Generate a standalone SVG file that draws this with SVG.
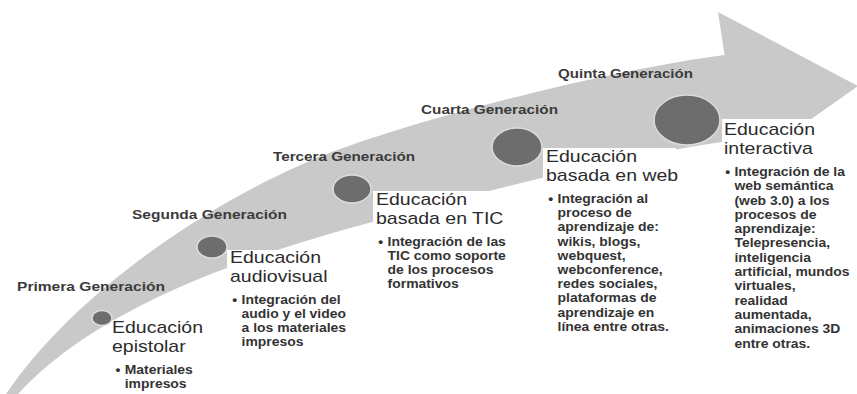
<svg xmlns="http://www.w3.org/2000/svg" width="857" height="394" viewBox="0 0 857 394">
<style>
text{font-family:"Liberation Sans",Arial,sans-serif}
.gen{font-size:12.5px;font-weight:700;fill:#3b3b3b}
.hd{font-size:16.8px;font-weight:400;fill:#2b2b2b}
.bl{font-size:12px;font-weight:700;fill:#333}
.dot{fill:#6d6d6d;stroke:#dcdcdc;stroke-width:1.5}
.box{fill:#fff}
</style>
<rect width="857" height="394" fill="#fff"/>
<g id="connectors">
<path id="arrow" fill="#c9c9c9" d="M6,394 C80,285 230,188 343,148 C443,112 622,68 724.6,55 L718,12 L858,86 L742,168 L737.7,140 C638,152 472,194 372,222 C250,255 100,305 18,394 Z"/>
</g>
<g id="gen1">
<text class="gen" x="17" y="291" textLength="148" lengthAdjust="spacingAndGlyphs">Primera Generación</text>
<rect class="box" x="109" y="320" width="100" height="74"/>
<ellipse class="dot" cx="102" cy="318" rx="10" ry="7.5"/>
<g transform="matrix(1.16,0,0,1,-17.92,0)">
<text class="hd" x="112" y="333">Educación</text>
<text class="hd" x="112" y="352">epistolar</text>
<text class="bl" x="115" y="374">•</text>
<text class="bl" x="123" y="374">Materiales</text>
<text class="bl" x="123" y="388">impresos</text>
</g>
</g>
<g id="gen2">
<text class="gen" x="132" y="219" textLength="155" lengthAdjust="spacingAndGlyphs">Segunda Generación</text>
<rect class="box" x="227" y="250" width="116" height="100"/>
<ellipse class="dot" cx="212" cy="247" rx="15" ry="11"/>
<g transform="matrix(1.16,0,0,1,-36.8,0)">
<text class="hd" x="230" y="263">Educación</text>
<text class="hd" x="230" y="282">audiovisual</text>
<text class="bl" x="232" y="304">•</text>
<text class="bl" x="240" y="304">Integración del</text>
<text class="bl" x="240" y="318">audio y el video</text>
<text class="bl" x="240" y="332">a los materiales</text>
<text class="bl" x="240" y="346">impresos</text>
</g>
</g>
<g id="gen3">
<text class="gen" x="273" y="161" textLength="142" lengthAdjust="spacingAndGlyphs">Tercera Generación</text>
<rect class="box" x="373" y="191" width="140" height="102"/>
<ellipse class="dot" cx="352" cy="189" rx="19" ry="14"/>
<g transform="matrix(1.16,0,0,1,-60.16,0)">
<text class="hd" x="376" y="205">Educación</text>
<text class="hd" x="376" y="224">basada en TIC</text>
<text class="bl" x="378" y="246">•</text>
<text class="bl" x="386" y="246">Integración de las</text>
<text class="bl" x="386" y="260">TIC como soporte</text>
<text class="bl" x="386" y="274">de los procesos</text>
<text class="bl" x="386" y="288">formativos</text>
</g>
</g>
<g id="gen4">
<text class="gen" x="421" y="114" textLength="137" lengthAdjust="spacingAndGlyphs">Cuarta Generación</text>
<rect class="box" x="543" y="148" width="133" height="190"/>
<ellipse class="dot" cx="517" cy="147" rx="25" ry="19"/>
<g transform="matrix(1.16,0,0,1,-87.36,0)">
<text class="hd" x="546" y="162">Educación</text>
<text class="hd" x="546" y="181">basada en web</text>
<text class="bl" x="548" y="203">•</text>
<text class="bl" x="556" y="203">Integración al</text>
<text class="bl" x="556" y="217.2">proceso de</text>
<text class="bl" x="556" y="231.4">aprendizaje de:</text>
<text class="bl" x="556" y="245.6">wikis, blogs,</text>
<text class="bl" x="556" y="259.8">webquest,</text>
<text class="bl" x="556" y="274">webconference,</text>
<text class="bl" x="556" y="288.2">redes sociales,</text>
<text class="bl" x="556" y="302.4">plataformas de</text>
<text class="bl" x="556" y="316.6">aprendizaje en</text>
<text class="bl" x="556" y="330.8">línea entre otras.</text>
</g>
</g>
<g id="gen5">
<text class="gen" x="558" y="78" textLength="135" lengthAdjust="spacingAndGlyphs">Quinta Generación</text>
<rect class="box" x="722" y="119" width="135" height="240"/>
<ellipse class="dot" cx="687" cy="120" rx="33" ry="25"/>
<g transform="matrix(1.16,0,0,1,-115.84,0)">
<text class="hd" x="724" y="135">Educación</text>
<text class="hd" x="724" y="154">interactiva</text>
<text class="bl" x="725" y="176">•</text>
<text class="bl" x="733" y="176">Integración de la</text>
<text class="bl" x="733" y="190.3">web semántica</text>
<text class="bl" x="733" y="204.6">(web 3.0) a los</text>
<text class="bl" x="733" y="218.9">procesos de</text>
<text class="bl" x="733" y="233.2">aprendizaje:</text>
<text class="bl" x="733" y="247.5">Telepresencia,</text>
<text class="bl" x="733" y="261.8">inteligencia</text>
<text class="bl" x="733" y="276.1">artificial, mundos</text>
<text class="bl" x="733" y="290.4">virtuales,</text>
<text class="bl" x="733" y="304.7">realidad</text>
<text class="bl" x="733" y="319">aumentada,</text>
<text class="bl" x="733" y="333.3">animaciones 3D</text>
<text class="bl" x="733" y="347.6">entre otras.</text>
</g>
</g>
</svg>
